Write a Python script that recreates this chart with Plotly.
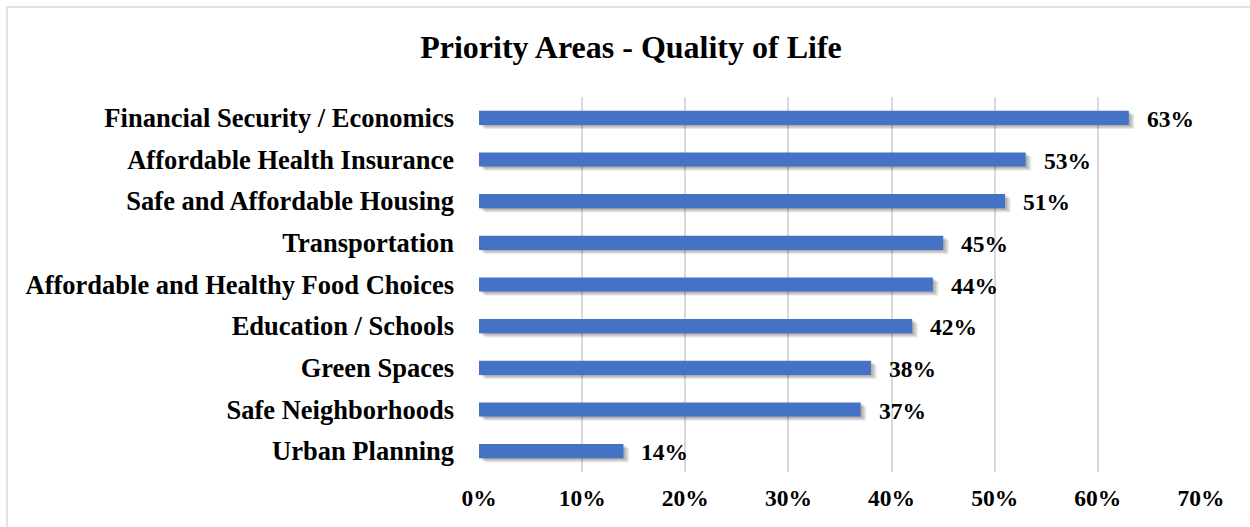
import plotly.graph_objects as go

categories = [
    "Financial Security / Economics",
    "Affordable Health Insurance",
    "Safe and Affordable Housing",
    "Transportation",
    "Affordable and Healthy Food Choices",
    "Education / Schools",
    "Green Spaces",
    "Safe Neighborhoods",
    "Urban Planning",
]
values = [0.63, 0.53, 0.51, 0.45, 0.44, 0.42, 0.38, 0.37, 0.14]
tick_vals = [0, 0.1, 0.2, 0.3, 0.4, 0.5, 0.6, 0.7]
tick_text = ["0%", "10%", "20%", "30%", "40%", "50%", "60%", "70%"]

FONT = "Liberation Serif, Times New Roman, serif"
BAR_COLOR = "#4472C4"

fig = go.Figure()

# soft drop shadow layers (offset down/right)
for k in range(1, 6):
    fig.add_trace(go.Bar(
        y=categories, x=values, orientation="h",
        base=k * 0.0011,
        width=0.34, offset=-0.17 + k * 0.02,
        marker=dict(color="rgba(0,0,0,0.075)", line=dict(width=0)),
        hoverinfo="skip", showlegend=False,
    ))

fig.add_trace(go.Bar(
    y=categories, x=values, orientation="h",
    width=0.34, offset=-0.17,
    marker=dict(color=BAR_COLOR, line=dict(width=0)),
    showlegend=False,
))

for c, v in zip(categories, values):
    fig.add_annotation(
        x=v, y=c, text=f"<b>{round(v*100)}%</b>", showarrow=False,
        xanchor="left", yanchor="middle", xshift=16, yshift=-1,
        font=dict(family=FONT, size=23.5, color="black"),
    )

fig.add_shape(
    type="rect", xref="paper", yref="paper",
    x0=(7 - 479) / 722, x1=(1265 - 479) / 722,
    y0=(472 - 545) / 375, y1=(472 - 7) / 375,
    line=dict(color="#D9D9D9", width=1.5), fillcolor="rgba(0,0,0,0)",
    layer="below",
)

fig.update_layout(
    width=1250, height=527,
    barmode="overlay",
    paper_bgcolor="white", plot_bgcolor="white",
    margin=dict(l=479, r=49, t=97, b=55),
    title=dict(
        text="<b>Priority Areas - Quality of Life</b>",
        x=631 / 1250, xanchor="center", y=1 - 47 / 527, yanchor="middle",
        font=dict(family=FONT, size=32, color="black"),
    ),
    xaxis=dict(
        range=[0, 0.7], tickvals=tick_vals, ticktext=[f"<b>{t}</b>" for t in tick_text],
        showgrid=True, gridcolor="#D9D9D9", gridwidth=1.5,
        zeroline=False, showline=False, ticks="",
        tickfont=dict(family=FONT, size=23.5, color="black"),
        ticklabelstandoff=9,
    ),
    yaxis=dict(
        autorange="reversed",
        tickvals=categories, ticktext=[f"<b>{c}</b>" for c in categories],
        showgrid=False, zeroline=False, showline=False, ticks="",
        tickfont=dict(family=FONT, size=26.5, color="black"),
        ticklabelstandoff=24,
    ),
)

fig.write_html(
    "out.html",
    config={"displayModeBar": False},
    post_script="document.body.style.margin='0';document.body.style.overflow='hidden';",
)
